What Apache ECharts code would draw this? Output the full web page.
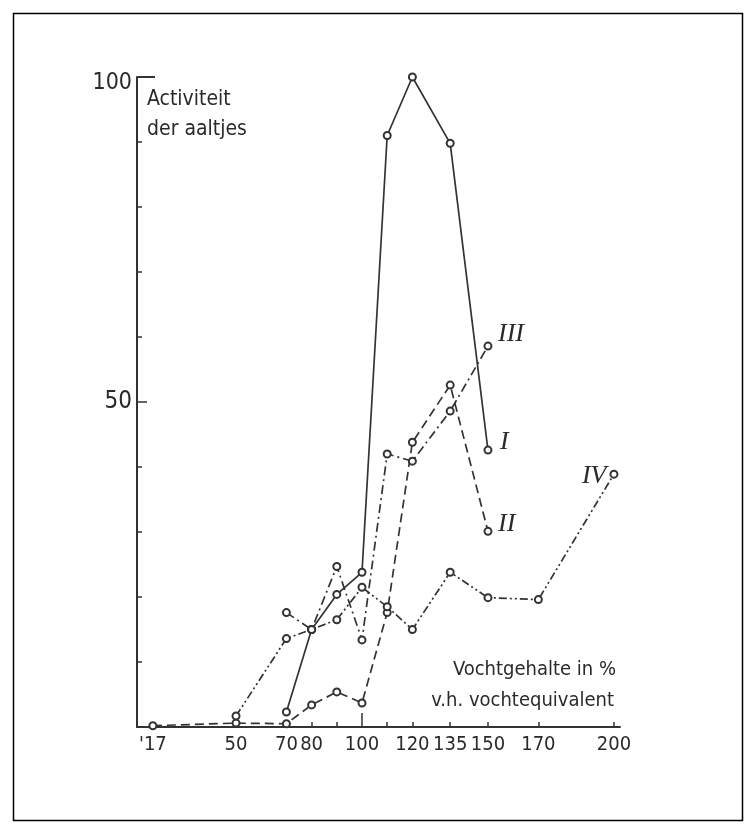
<!DOCTYPE html>
<html>
<head>
<meta charset="utf-8">
<script src="https://cdn.jsdelivr.net/npm/echarts@6/dist/echarts.min.js"></script>
<style>
  html, body { margin: 0; padding: 0; background: #fff; }
  #chart { width: 756px; height: 835px; }
</style>
</head>
<body>
<div id="chart"></div>
<script>
// moisture content (% of moisture equivalent) and activity of the eelworms
var moisture = [17, 50, 70, 80, 90, 100, 110, 120, 135, 150, 170, 200];
var serieI   = [null, null, 2.3, 15.0, 20.4, 23.8, 91.0, 100, 89.8, 42.6, null, null];
var serieII  = [0.2, 0.6, 0.5, 3.4, 5.4, 3.7, 17.6, 43.8, 52.6, 30.1, null, null];
var serieIII = [null, null, 17.6, 15.0, 24.7, 13.4, 42.0, 40.9, 48.6, 58.6, null, null];
var serieIV  = [null, 1.7, 13.6, 15.0, 16.5, 21.5, 18.5, 15.0, 23.8, 19.9, 19.6, 38.9];

var xTickValues  = [50, 70, 80, 90, 100, 110, 120, 135, 150, 170, 200];
var xLabelValues = [17, 50, 70, 80, 100, 120, 135, 150, 170, 200];
var xLabelTexts  = ["'17", '50', '70', '80', '100', '120', '135', '150', '170', '200'];
var yLabelValues = [50, 100];

var ink = '#333';
var textInk = '#2a2a2a';
var font = '"DejaVu Sans Condensed", "Liberation Sans Narrow", "Noto Sans", sans-serif';
var romanFont = '"Liberation Serif", "DejaVu Serif", serif';

function pairs(vals) {
    var out = [];
    for (var i = 0; i < moisture.length; ++i) {
        if (vals[i] != null) out.push([moisture[i], vals[i]]);
    }
    return out;
}

function makeSeries(name, vals, dash, labelOpt) {
    return {
        name: name,
        type: 'line',
        data: pairs(vals),
        symbol: 'emptyCircle',
        symbolSize: 7,
        showSymbol: true,
        silent: true,
        color: ink,
        lineStyle: { color: ink, width: 1.7, type: dash },
        itemStyle: { color: ink, borderColor: ink, borderWidth: 1.4 },
        endLabel: Object.assign({
            show: true,
            formatter: '{a}',
            fontFamily: romanFont,
            fontStyle: 'italic',
            fontSize: 26,
            color: textInk
        }, labelOpt),
        z: 3
    };
}

var xMin = 10.7, xMax = 202.4;

var option = {
    animation: false,
    backgroundColor: '#fff',
    grid: { left: 137, top: 77, right: 136, bottom: 108, containLabel: false },
    xAxis: [
        {
            type: 'value', min: xMin, max: xMax,
            splitLine: { show: false },
            axisLine: { show: true, lineStyle: { color: ink, width: 2 } },
            axisTick: { show: true, inside: true, length: 5, customValues: xTickValues, lineStyle: { color: ink, width: 1.5 } },
            axisLabel: {
                show: true, margin: 8, customValues: xLabelValues,
                formatter: function (v) { return xLabelTexts[xLabelValues.indexOf(v)]; },
                fontFamily: font, fontSize: 20, color: textInk
            }
        },
        {
            type: 'value', min: xMin, max: xMax, position: 'bottom',
            splitLine: { show: false },
            axisLine: { show: false },
            axisTick: { show: true, inside: true, length: 14, customValues: [100], lineStyle: { color: ink, width: 1.5 } },
            axisLabel: { show: false }
        }
    ],
    yAxis: [
        {
            type: 'value', min: 0, max: 100, interval: 10,
            splitLine: { show: false },
            axisLine: { show: true, lineStyle: { color: ink, width: 2 } },
            axisTick: { show: true, inside: true, length: 5, lineStyle: { color: ink, width: 1.5 } },
            axisLabel: {
                show: true, margin: 5, customValues: yLabelValues,
                formatter: function (v) { return v === 100 ? '{top|100}' : String(v); },
                rich: { top: { padding: [12, 0, 0, 0], fontFamily: font, fontSize: 23, color: textInk } },
                fontFamily: font, fontSize: 24, color: textInk
            }
        },
        {
            type: 'value', min: 0, max: 100, position: 'left',
            splitLine: { show: false }, axisLine: { show: false },
            axisTick: { show: true, inside: true, length: 10, customValues: [50], lineStyle: { color: ink, width: 1.5 } },
            axisLabel: { show: false }
        },
        {
            type: 'value', min: 0, max: 100, position: 'left',
            splitLine: { show: false }, axisLine: { show: false },
            axisTick: { show: true, inside: true, length: 18, customValues: [100], lineStyle: { color: ink, width: 2 } },
            axisLabel: { show: false }
        }
    ],
    graphic: [
        {
            type: 'rect', silent: true,
            shape: { x: 13.5, y: 13.5, width: 729, height: 807 },
            style: { fill: 'none', stroke: '#000', lineWidth: 1.5 }
        },
        {
            type: 'text', left: 147, top: 85, silent: true,
            style: { text: 'Activiteit\nder aaltjes', font: '21px ' + font, lineHeight: 30, fill: textInk }
        },
        {
            type: 'text', right: 140, top: 660, silent: true,
            style: { text: 'Vochtgehalte in %', font: '20px ' + font, fill: textInk }
        },
        {
            type: 'text', right: 142, top: 691, silent: true,
            style: { text: 'v.h. vochtequivalent', font: '20px ' + font, fill: textInk }
        }
    ],
    series: [
        makeSeries('I', serieI, 'solid', { offset: [4, -8] }),
        makeSeries('II', serieII, [9, 5], { offset: [2, -7] }),
        makeSeries('III', serieIII, [9, 4, 2, 4], { offset: [2, -12] }),
        makeSeries('IV', serieIV, [8, 3, 2, 3, 2, 3], { offset: [-40, 2] })
    ]
};

var chart = echarts.init(document.getElementById('chart'));
chart.setOption(option);
</script>
</body>
</html>
